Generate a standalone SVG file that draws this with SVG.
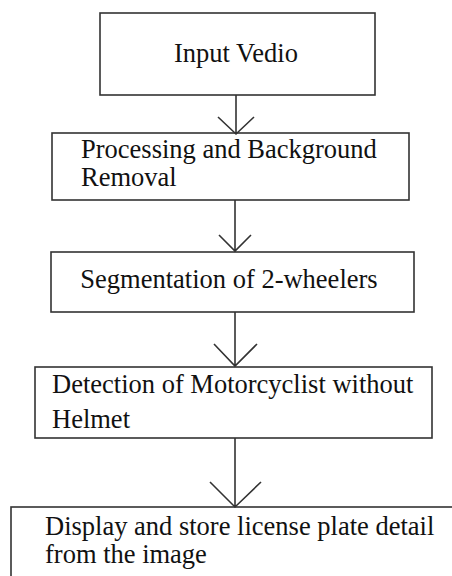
<svg xmlns="http://www.w3.org/2000/svg" width="452" height="576" viewBox="0 0 452 576">
<style>
.box{fill:#fff;stroke:#333;stroke-width:1.6}
.t{font-family:"Liberation Serif","Times New Roman",serif;font-size:26.5px;fill:#111}
.c{stroke:#333;stroke-width:1.6;fill:none}
</style>
<rect width="452" height="576" fill="#fff"/>
<g id="n1"><rect class="box" x="100" y="13" width="275" height="82"/><text class="t" x="236" y="62" text-anchor="middle">Input Vedio</text></g>
<g id="n2"><rect class="box" x="52" y="133" width="357" height="67"/><text class="t" x="81" y="158">Processing and Background</text><text class="t" x="81" y="186">Removal</text></g>
<g id="n3"><rect class="box" x="51" y="252" width="363" height="60"/><text class="t" x="229" y="288" text-anchor="middle">Segmentation of 2-wheelers</text></g>
<g id="n4"><rect class="box" x="35" y="367" width="397" height="71"/><text class="t" x="52" y="393">Detection of Motorcyclist without</text><text class="t" x="52" y="428">Helmet</text></g>
<g id="n5"><rect class="box" x="11" y="507" width="445" height="80"/><text class="t" x="45" y="535">Display and store license plate detail</text><text class="t" x="45" y="563">from the image</text></g>
<g id="connectors">
<path class="c" d="M236 95V134M218 117L236 134L254 117"/>
<path class="c" d="M235 200V252M219 235L235 251L251 235"/>
<path class="c" d="M235 312V366M214 344L235 366L257 344"/>
<path class="c" d="M235 438V507M210 482L235 507L261 482"/>
</g>
</svg>
